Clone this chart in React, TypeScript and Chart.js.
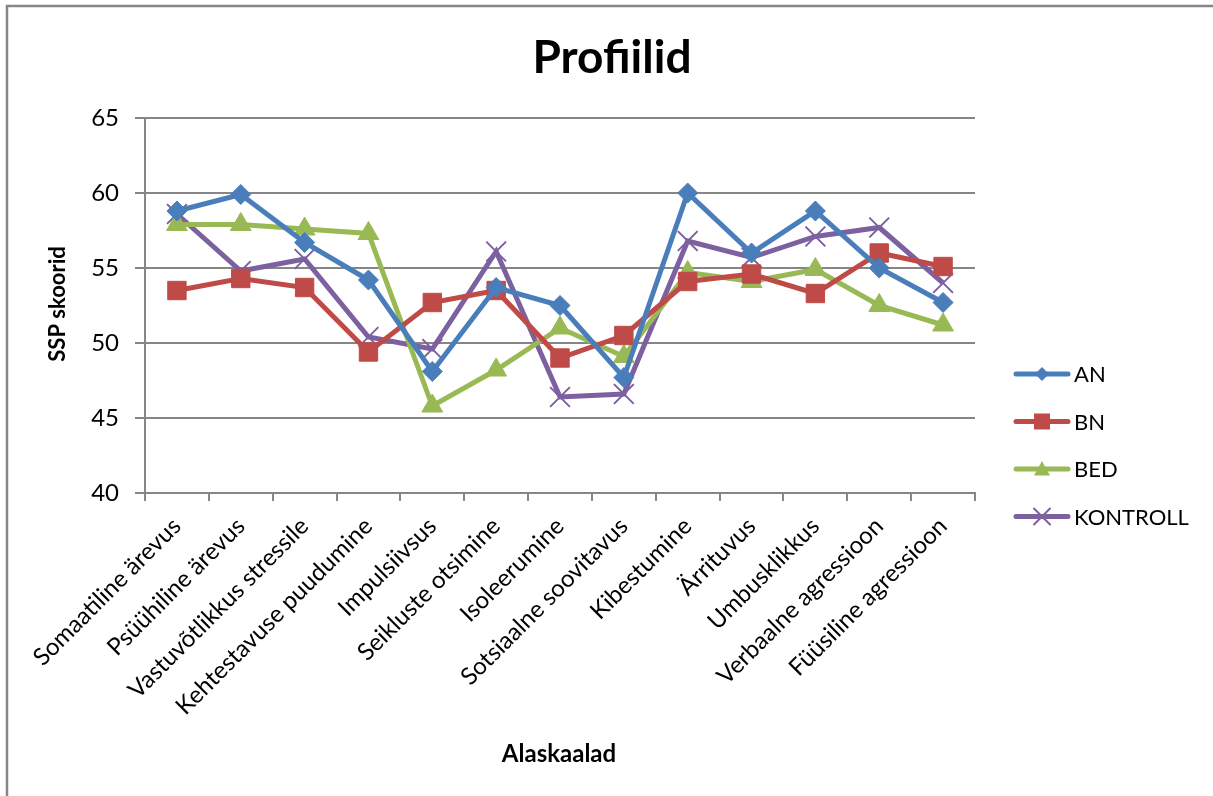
import { useEffect, useRef } from "react";
import { Chart, registerables } from "chart.js";

Chart.register(...registerables);

const categories = [
  "Somaatiline ärevus",
  "Psüühiline ärevus",
  "Vastuvõtlikkus stressile",
  "Kehtestavuse puudumine",
  "Impulsiivsus",
  "Seikluste otsimine",
  "Isoleerumine",
  "Sotsiaalne soovitavus",
  "Kibestumine",
  "Ärrituvus",
  "Umbusklikkus",
  "Verbaalne agressioon",
  "Füüsiline agressioon",
];

const seriesNames = ["AN", "BN", "BED", "KONTROLL"];
const anValues = [58.8, 59.9, 56.7, 54.2, 48.1, 53.7, 52.5, 47.7, 60.0, 56.0, 58.8, 55.0, 52.7];
const bnValues = [53.5, 54.3, 53.7, 49.4, 52.7, 53.5, 49.0, 50.5, 54.1, 54.6, 53.3, 56.0, 55.1];
const bedValues = [57.9, 57.9, 57.6, 57.3, 45.8, 48.2, 51.0, 49.1, 54.7, 54.1, 54.9, 52.5, 51.2];
const kontrollValues = [58.6, 54.8, 55.6, 50.4, 49.6, 56.1, 46.4, 46.6, 56.8, 55.7, 57.1, 57.7, 54.0];

const yMin = 40;
const yMax = 65;
const yStep = 5;

const titleText = "Profiilid";
const xTitle = "Alaskaalad";
const yTitle = "SSP skoorid";

const colors = ["#4A7EBB", "#BE4B48", "#98B954", "#7D60A0"];
const pointStyles = ["rectRot", "rect", "triangle", "crossRot"];
const pointRadii = [10, 13, 12, 14];

const FONT = "Lato, 'Open Sans', sans-serif";

function drawMarker(ctx: CanvasRenderingContext2D, style: string, x: number, y: number, s: number, color: string) {
  ctx.save();
  ctx.fillStyle = color;
  ctx.strokeStyle = color;
  ctx.beginPath();
  if (style === "rectRot") {
    ctx.moveTo(x, y - s);
    ctx.lineTo(x + s, y);
    ctx.lineTo(x, y + s);
    ctx.lineTo(x - s, y);
    ctx.closePath();
    ctx.fill();
  } else if (style === "rect") {
    ctx.rect(x - s, y - s, 2 * s, 2 * s);
    ctx.fill();
  } else if (style === "triangle") {
    ctx.moveTo(x, y - s);
    ctx.lineTo(x + s, y + s * 0.8);
    ctx.lineTo(x - s, y + s * 0.8);
    ctx.closePath();
    ctx.fill();
  } else {
    ctx.lineWidth = 2;
    ctx.moveTo(x - s, y - s);
    ctx.lineTo(x + s, y + s);
    ctx.moveTo(x + s, y - s);
    ctx.lineTo(x - s, y + s);
    ctx.stroke();
  }
  ctx.restore();
}

const decorPlugin = {
  id: "decor",
  beforeDraw(chart: any) {
    const ctx = chart.ctx as CanvasRenderingContext2D;
    ctx.save();
    ctx.strokeStyle = "#868686";
    ctx.lineWidth = 2.5;
    ctx.strokeRect(7, 6, 1400, 1000);
    ctx.restore();
  },
  afterDraw(chart: any) {
    const ctx = chart.ctx as CanvasRenderingContext2D;
    ctx.save();
    ctx.fillStyle = "#000";
    ctx.textAlign = "center";
    ctx.textBaseline = "middle";
    ctx.font = `bold 46px ${FONT}`;
    ctx.fillText(titleText, 612, 58);
    ctx.font = `bold 24px ${FONT}`;
    ctx.fillText(xTitle, 559, 754);
    ctx.save();
    ctx.translate(58, 304);
    ctx.rotate(-Math.PI / 2);
    ctx.font = `bold 22px ${FONT}`;
    ctx.fillText(yTitle, 0, 0);
    ctx.restore();

    // legend
    chart.data.datasets.forEach((ds: any, i: number) => {
      const y = 374 + i * 47.5;
      ctx.strokeStyle = ds.borderColor;
      ctx.lineWidth = 5;
      ctx.lineCap = "round";
      ctx.beginPath();
      ctx.moveTo(1016, y);
      ctx.lineTo(1068, y);
      ctx.stroke();
      drawMarker(ctx, ds.pointStyle, 1042, y, ds.pointStyle === "rectRot" ? 7 : 8, ds.borderColor);
      ctx.fillStyle = "#000";
      ctx.textAlign = "left";
      ctx.font = `22px ${FONT}`;
      ctx.fillText(ds.label, 1074, y + 1);
    });
    ctx.restore();
  },
};

export default function App() {
  const ref = useRef<HTMLCanvasElement | null>(null);
  useEffect(() => {
    if (!ref.current) return;
    const allSeries = [anValues, bnValues, bedValues, kontrollValues];
    const chart = new Chart(ref.current, {
      type: "line",
      data: {
        labels: categories,
        datasets: allSeries.map((vals, i) => ({
          label: seriesNames[i],
          data: vals,
          borderColor: colors[i],
          backgroundColor: colors[i],
          borderWidth: 5,
          tension: 0,
          pointStyle: pointStyles[i] as any,
          pointRadius: pointRadii[i],
          pointBorderWidth: i === 3 ? 2 : 1,
          pointBackgroundColor: colors[i],
          pointBorderColor: colors[i],
          fill: false,
        })),
      },
      options: {
        responsive: false,
        animation: false,
        events: [],
        layout: { padding: { top: 118, right: 238, left: 0, bottom: 0 } },
        plugins: {
          legend: { display: false },
          title: { display: false },
          tooltip: { enabled: false },
        },
        scales: {
          x: {
            type: "category",
            offset: true,
            grid: {
              display: true,
              offset: true,
              drawOnChartArea: false,
              drawTicks: true,
              tickLength: 8,
              color: "#868686",
              lineWidth: 2,
            },
            border: { display: true, color: "#868686", width: 2 },
            ticks: {
              autoSkip: false,
              maxRotation: 45,
              minRotation: 45,
              padding: 11,
              color: "#000",
              font: { family: FONT, size: 24 },
            },
            afterFit(scale: any) {
              scale.height = 796 - 493;
            },
          },
          y: {
            min: yMin,
            max: yMax,
            ticks: {
              stepSize: yStep,
              padding: 16,
              color: "#000",
              font: { family: FONT, size: 24 },
            },
            grid: {
              color: "#868686",
              lineWidth: 2,
              tickLength: 10,
            },
            border: { display: true, color: "#868686", width: 2 },
            afterFit(scale: any) {
              scale.width = 145;
            },
          },
        },
      },
      plugins: [decorPlugin],
    });
    return () => chart.destroy();
  }, []);
  return (
    <div style={{ position: "fixed", left: 0, top: 0, width: 1213, height: 796, background: "#fff" }}>
      <canvas ref={ref} width={1213} height={796} style={{ display: "block" }} />
    </div>
  );
}
